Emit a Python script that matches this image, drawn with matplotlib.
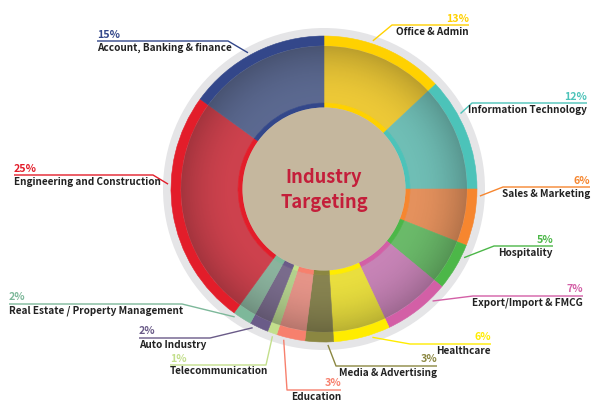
import numpy as np
import matplotlib
matplotlib.use("Agg")
import matplotlib.pyplot as plt
from matplotlib import font_manager
from matplotlib.patches import Circle, Wedge

# data
industries = ["Office & Admin", "Information Technology", "Sales & Marketing", "Hospitality",
              "Export/Import & FMCG", "Healthcare", "Media & Advertising", "Education",
              "Telecommunication", "Auto Industry", "Real Estate / Property Management",
              "Engineering and Construction", "Account, Banking & finance"]
shares = [13, 12, 6, 5, 7, 6, 3, 3, 1, 2, 2, 25, 15]
pct_labels = [f"{v}%" for v in shares]

# colours
ring_colors = ['#FFD100', '#4CC3B9', '#F6862F', '#4CB748', '#D35FA6', '#FFEC00', '#8B8741',
               '#F7806D', '#C3DF8C', '#6A5B88', '#7DB89A', '#E31D2A', '#33478A']
fill_colors = ['#F1CC38', '#72C2B9', '#E9945F', '#6DBE6C', '#CB86BA', '#EEE340', '#8A8652',
               '#EA978B', '#B7D48F', '#7C6E8F', '#8EB7A1', '#D2434F', '#5D6B93']

# layout: side, text x, line y (pixels from top), elbow x, attach fraction inside slice
layout = [
    ('R', 469, 25, 392, 0.39),
    ('R', 587, 103, 472, 0.33),
    ('R', 590, 187, 503, 0.12),
    ('R', 553, 246, 494, 0.25),
    ('R', 583, 296, 473, 0.25),
    ('R', 491, 344, 410, 0.33),
    ('R', 437, 366, 336, 0.20),
    ('R', 341, 390, 287, 0.72),
    ('L', 170, 365, 266, 0.36),
    ('L', 139, 338, 210, 0.78),
    ('L', 9, 304, 182, 0.85),
    ('L', 14, 175, 153, 0.62),
    ('L', 97, 41, 228, 0.46),
]

W, H = 600, 412
cx, cy = 324, H - 189
r_grey, r_out, r_band, r_fill, r_inner = 161, 153, 143, 86, 81.5

names = {f.name for f in font_manager.fontManager.ttflist}
if 'Noto Sans CJK JP' in names:
    fonts = ['Noto Sans CJK JP', 'DejaVu Sans']
    lab_size, title_size = 7.2, 13.2
else:
    fonts = ['Roboto', 'DejaVu Sans']
    lab_size, title_size = 6.8, 12.5

fig = plt.figure(figsize=(6, 4.12), dpi=100)
ax = fig.add_axes([0, 0, 1, 1])

# grey outer ring
ax.add_patch(Circle((cx, cy), r_grey, color='#E5E5E7', lw=0))

pie_kw = dict(startangle=90, counterclock=False, center=(cx, cy), normalize=True)


def ring(radius, width, colors):
    wedges, _ = ax.pie(shares, radius=radius, colors=colors,
                       wedgeprops=dict(width=width), **pie_kw)
    for w, c in zip(wedges, colors):
        w.set_edgecolor(c)
        w.set_linewidth(0.4)


ring(r_out, r_out - r_band, ring_colors)
ring(r_band, r_band - r_fill, fill_colors)
ring(r_fill, r_fill - r_inner, ring_colors)

# radial shading on the main fill
n = 400
xs = np.linspace(cx - r_band, cx + r_band, n)
ys = np.linspace(cy - r_band, cy + r_band, n)
gx, gy = np.meshgrid(xs, ys)
rr = np.hypot(gx - cx, gy - cy)
t = np.clip((rr - r_fill) / (r_band - r_fill), 0, 1)
shade = np.zeros((n, n, 4))
shade[..., 3] = 0.02 + 0.2 * t ** 2
img = ax.imshow(shade, extent=[cx - r_band, cx + r_band, cy - r_band, cy + r_band],
                origin='lower', interpolation='bilinear', zorder=3)
clip = Wedge((cx, cy), r_band, 0, 360, width=r_band - r_fill, transform=ax.transData)
img.set_clip_path(clip)

# centre disc and title
ax.add_patch(Circle((cx, cy), r_inner, color='#C5B79E', lw=0, zorder=4))
ax.text(cx, H - 183, "Industry", ha='center', va='baseline', fontsize=title_size,
        color='#C41E3A', fontweight='bold', family=fonts, zorder=5)
ax.text(cx, H - 208, "Targeting", ha='center', va='baseline', fontsize=title_size,
        color='#C41E3A', fontweight='bold', family=fonts, zorder=5)

# leader lines and labels
cum = np.concatenate([[0], np.cumsum(shares)[:-1]])
for name, pct, v, c0, col, (side, tx, ly, ex, frac) in zip(
        industries, pct_labels, shares, cum, ring_colors, layout):
    ang = np.deg2rad(90 - 360 * (c0 + frac * v) / 100)
    px, py = cx + 156 * np.cos(ang), cy + 156 * np.sin(ang)
    yl = H - ly
    ax.plot([px, ex, tx], [py, yl, yl], color=col, lw=1, zorder=6,
            solid_capstyle='butt')
    ha = 'left' if side == 'L' else 'right'
    ax.text(tx, yl + 1.5, pct, ha=ha, va='bottom', fontsize=lab_size + 0.5, color=col,
            fontweight='bold', family=fonts, zorder=7)
    ax.text(tx, yl - 1.5, name, ha=ha, va='top', fontsize=lab_size, color='#222222',
            fontweight='bold', family=fonts, zorder=7)

ax.set_xlim(0, W)
ax.set_ylim(0, H)
ax.set_aspect('equal')
ax.axis('off')

fig.savefig('out.png', dpi=100, facecolor='white')
